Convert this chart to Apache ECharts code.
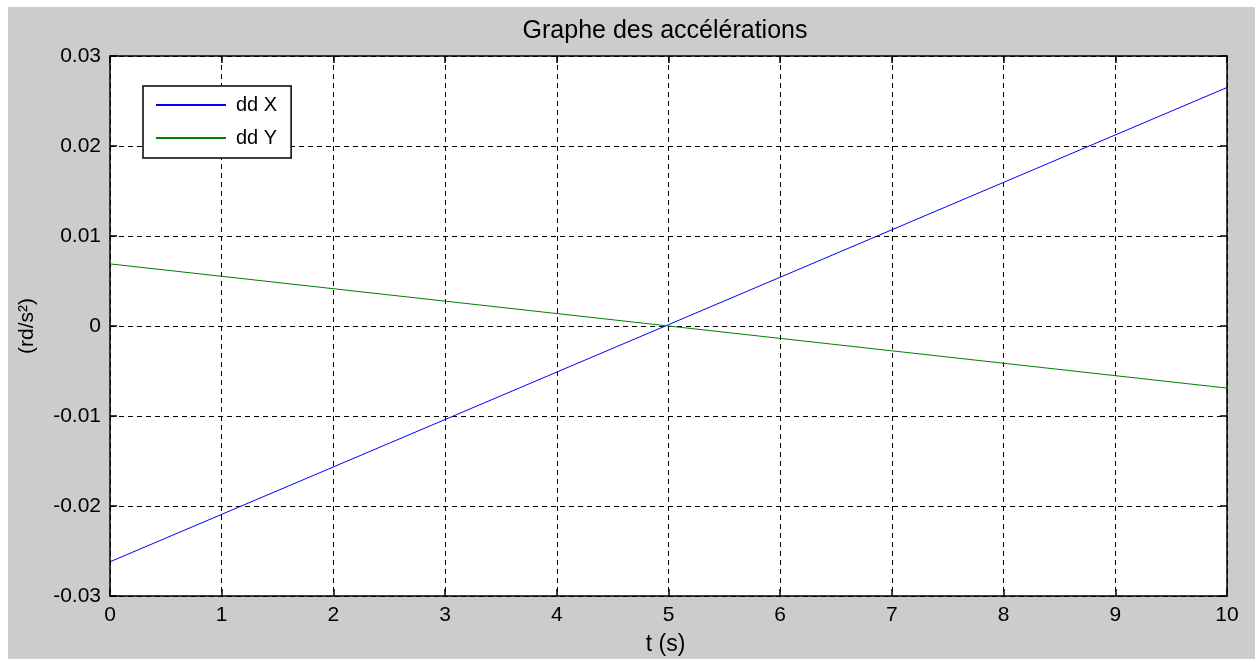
<!DOCTYPE html>
<html>
<head>
<meta charset="utf-8">
<title>Graphe des accélérations</title>
<script src="https://cdn.jsdelivr.net/npm/echarts@6/dist/echarts.min.js"></script>
<style>
  html, body { margin: 0; padding: 0; background: #ffffff; }
  #chart { width: 1255px; height: 661px; }
</style>
</head>
<body>
<div id="chart"></div>
<script>
// Time samples (s) and the two angular accelerations (rd/s²)
const tValues = [0, 10];
const ddX = [-0.0262, 0.0265];
const ddY = [0.0069, -0.0069];
const seriesNames = ['dd X', 'dd Y'];
const titleText = 'Graphe des accélérations';
const xAxisName = 't (s)';
const yAxisName = '(rd/s²)';

const FONT = '"Liberation Sans", Arial, sans-serif';
const chart = echarts.init(document.getElementById('chart'), null, { renderer: 'canvas' });

const gridLine = { show: true, lineStyle: { color: '#000', type: [5, 4], width: 1 } };
const tickIn = { show: true, inside: true, length: 7, lineStyle: { color: '#000', width: 1.5 } };
const border = { show: true, onZero: false, lineStyle: { color: '#000', width: 1.5 } };
const tickLabel = { color: '#000', fontFamily: FONT, fontSize: 21 };

chart.setOption({
  backgroundColor: '#ffffff',
  animation: false,
  graphic: [{
    type: 'rect', z: -10, silent: true,
    shape: { x: 8, y: 7, width: 1247, height: 652 },
    style: { fill: '#cccccc' }
  }],
  title: {
    text: titleText,
    left: 660, top: 14, textAlign: 'center',
    textStyle: { color: '#000', fontFamily: FONT, fontSize: 25, fontWeight: 'normal' }
  },
  legend: {
    data: seriesNames,
    orient: 'vertical',
    left: 143, top: 86,
    padding: [8, 14, 9, 13],
    itemGap: 11,
    itemWidth: 70, itemHeight: 2,
    icon: 'rect',
    backgroundColor: '#ffffff',
    borderColor: '#000', borderWidth: 1.5, borderRadius: 0,
    textStyle: { color: '#000', fontFamily: FONT, fontSize: 20, lineHeight: 22, padding: [0, 0, 0, 5] }
  },
  grid: { left: 110, right: 28, top: 56, bottom: 63, show: true, backgroundColor: '#ffffff', borderWidth: 0 },
  xAxis: [{
    type: 'value', min: 0, max: 10, interval: 1, position: 'bottom',
    name: xAxisName, nameLocation: 'middle', nameGap: 37,
    nameTextStyle: { color: '#000', fontFamily: FONT, fontSize: 23, padding: [0, 6, 0, 0] },
    axisLine: border, axisTick: tickIn, splitLine: gridLine,
    axisLabel: Object.assign({ margin: 9 }, tickLabel)
  }, {
    type: 'value', min: 0, max: 10, interval: 1, position: 'top',
    axisLine: border, axisTick: tickIn, splitLine: { show: false }, axisLabel: { show: false }
  }],
  yAxis: [{
    type: 'value', min: -0.03, max: 0.03, interval: 0.01, position: 'left',
    name: yAxisName, nameLocation: 'middle', nameGap: 72, nameRotate: 90,
    nameTextStyle: { color: '#000', fontFamily: FONT, fontSize: 21 },
    axisLine: border, axisTick: tickIn, splitLine: gridLine,
    axisLabel: Object.assign({ margin: 9 }, tickLabel)
  }, {
    type: 'value', min: -0.03, max: 0.03, interval: 0.01, position: 'right',
    axisLine: border, axisTick: tickIn, splitLine: { show: false }, axisLabel: { show: false }
  }],
  series: [{
    name: seriesNames[0], type: 'line', showSymbol: false,
    data: tValues.map((t, i) => [t, ddX[i]]),
    lineStyle: { color: '#0000ff', width: 1 }, itemStyle: { color: '#0000ff' }
  }, {
    name: seriesNames[1], type: 'line', showSymbol: false,
    data: tValues.map((t, i) => [t, ddY[i]]),
    lineStyle: { color: '#008000', width: 1 }, itemStyle: { color: '#008000' }
  }]
});
</script>
</body>
</html>
